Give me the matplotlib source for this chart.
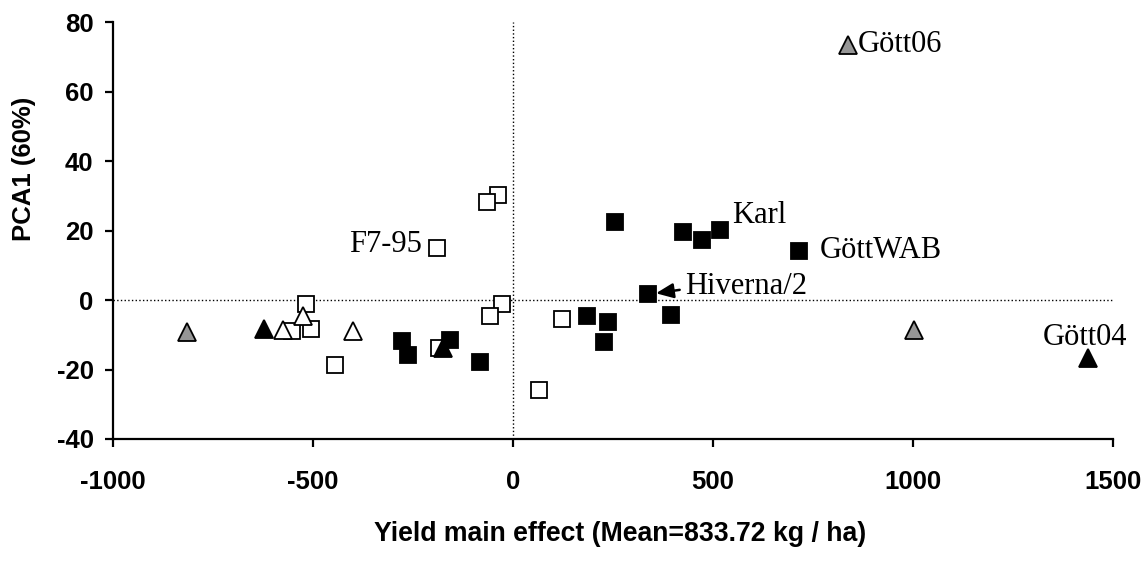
import matplotlib
matplotlib.use("Agg")
import matplotlib.pyplot as plt

plt.rcParams["axes.unicode_minus"] = False

# Genotype scores: yield main effect (kg/ha) vs. first PCA axis
open_sq_x = [-517, -552, -505, -445, -185, -27, -57, -37, -65, -190, 122, 65]
open_sq_y = [-1.0, -8.8, -8.2, -18.6, -13.7, -1.0, -4.7, 30.1, 28.1, 15.1, -5.6, -25.8]

black_sq_x = [-277, -262, -157, -82, 255, 337, 185, 237, 227, 425, 472, 517, 715, 395]
black_sq_y = [-11.7, -15.7, -11.4, -17.7, 22.6, 1.6, -4.7, -6.2, -12.2, 19.7, 17.4, 20.3, 14.2, -4.2]

white_tri_x = [-575, -525, -400]
white_tri_y = [-8.5, -4.5, -8.8]

black_tri_x = [-622, 1437, -175]
black_tri_y = [-8.2, -16.8, -13.7]

gray_tri_x = [-815, 837, 1002]
gray_tri_y = [-9.1, 73.5, -8.5]

# labelled genotypes: (name, series, index)
labels = [
    ("Gött06", "gray_tri", 1),
    ("Karl", "black_sq", 11),
    ("GöttWAB", "black_sq", 12),
    ("Hiverna/2", "black_sq", 5),
    ("F7-95", "open_sq", 9),
    ("Gött04", "black_tri", 1),
]

series = {
    "open_sq": (open_sq_x, open_sq_y),
    "black_sq": (black_sq_x, black_sq_y),
    "white_tri": (white_tri_x, white_tri_y),
    "black_tri": (black_tri_x, black_tri_y),
    "gray_tri": (gray_tri_x, gray_tri_y),
}

fig = plt.figure(figsize=(11.48, 5.61), dpi=100)
ax = fig.add_axes([0.0984, 0.2175, 0.871, 0.743])

ax.plot([-1000, 1500], [0, 0], ls=":", color="black", lw=1.0, zorder=1)
ax.plot([0, 0], [-40, 80], ls=":", color="black", lw=1.0, zorder=1)

sq = dict(marker="s", ls="none", ms=11, mew=1.3, mec="black", zorder=3)
tri = dict(marker="^", ls="none", ms=12.5, mew=1.3, mec="black", zorder=4)
ax.plot(open_sq_x, open_sq_y, mfc="white", **sq)
ax.plot(black_sq_x, black_sq_y, mfc="black", **sq)
ax.plot(white_tri_x, white_tri_y, mfc="white", **tri)
ax.plot(black_tri_x, black_tri_y, mfc="black", **tri)
ax.plot(gray_tri_x, gray_tri_y, mfc="#969696", **tri)

serif = dict(family="Liberation Serif", fontsize=22)
offsets = {
    "Gött06": ((7, 0), "left"),
    "Karl": ((9, 10), "left"),
    "GöttWAB": ((15, 0), "left"),
    "Hiverna/2": ((27, 6), "left"),
    "F7-95": ((-11, 2), "right"),
    "Gött04": ((-2, 15), "center"),
}
for name, key, i in labels:
    xs, ys = series[key]
    off, ha = offsets[name]
    kw = {}
    if name == "Hiverna/2":
        kw["arrowprops"] = dict(arrowstyle="-|>,head_length=0.7,head_width=0.3",
                                mutation_scale=15, color="black", lw=1.8,
                                shrinkA=2, shrinkB=6, relpos=(0, 0.4))
    ax.annotate(name, xy=(xs[i], ys[i]), xytext=off, textcoords="offset points",
                ha=ha, va="center", zorder=5, **serif, **kw)

ax.set_xlim(-1000, 1500)
ax.set_ylim(-40, 80)
ax.set_xticks([-1000, -500, 0, 500, 1000, 1500])
ax.set_yticks([-40, -20, 0, 20, 40, 60, 80])

for s in ("top", "right"):
    ax.spines[s].set_visible(False)
for s in ("left", "bottom"):
    ax.spines[s].set_linewidth(1.6)

ax.tick_params(axis="both", direction="out", length=6, width=1.6)
ax.tick_params(axis="x", pad=16)
ax.tick_params(axis="y", pad=8)
for lab in ax.get_xticklabels() + ax.get_yticklabels():
    lab.set_family("Liberation Sans")
    lab.set_fontweight("bold")
    lab.set_fontsize(18.5)

ax.set_xlabel("Yield main effect (Mean=833.72 kg / ha)", family="Liberation Sans",
              fontweight="bold", fontsize=19.2)
ax.set_ylabel("PCA1 (60%)", family="Liberation Sans", fontweight="bold", fontsize=18.5)
ax.xaxis.set_label_coords(0.507, -0.197)
ax.yaxis.set_label_coords(-0.077, 0.647)

fig.savefig("out.png", dpi=100)
